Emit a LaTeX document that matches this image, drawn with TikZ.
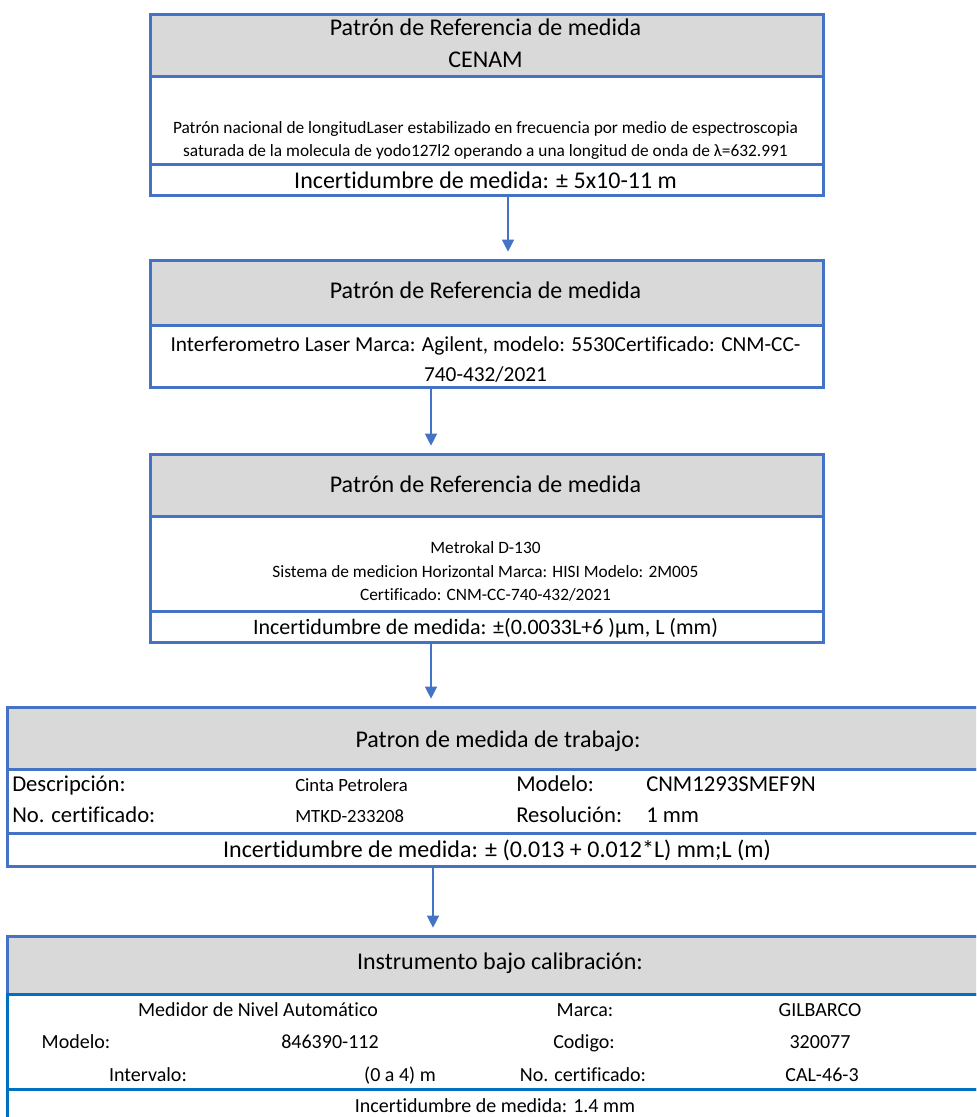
\documentclass[tikz,border=0pt]{standalone}
\usepackage{fontspec}
\setmainfont{Carlito}[Ligatures=NoCommon]
\usetikzlibrary{arrows.meta}
\definecolor{bl}{HTML}{4472C4}
\definecolor{bltwo}{HTML}{0070C0}
\definecolor{gr}{HTML}{D9D9D9}
\tikzset{
  sect/.style={draw=bl, line width=2pt, inner sep=0pt, anchor=north west, minimum width=504.75pt},
  hsect/.style={sect, fill=gr},
  wsect/.style={sect, minimum width=738pt},
  whsect/.style={wsect, fill=gr},
  txt/.style={inner sep=0pt, anchor=base},
  ltxt/.style={inner sep=0pt, anchor=base west},
  rtxt/.style={inner sep=0pt, anchor=base east},
  ftitle/.style={font=\fontsize{18}{22}\selectfont},
  fsmall/.style={font=\fontsize{13}{15}\selectfont},
  fbody/.style={font=\fontsize{16}{19}\selectfont},
  fmid/.style={font=\fontsize{15}{18}\selectfont},
  flab/.style={font=\fontsize{17}{20}\selectfont},
  fval/.style={font=\fontsize{14}{17}\selectfont},
  arr/.style={draw=bl, line width=1pt, -{Triangle[length=9pt,width=9pt]}, shorten >=5.5pt}
}
\begin{document}
\begin{tikzpicture}[x=0.75pt,y=-0.75pt]
\useasboundingbox (0,0) rectangle (976,1117);
\clip (0,0) rectangle (976,1117);
\coordinate (a1) at (508,0);
\coordinate (a2) at (431,0);
\coordinate (a3) at (431,0);
\coordinate (a4) at (433,0);
% Box 1
\node[hsect, minimum height=46.5pt] (b1h) at (149,13) {};
\node[sect, minimum height=66pt] (b1b) at (149,75) {};
\node[sect, minimum height=23.25pt] (b1i) at (149,163) {};
\node[txt, ftitle] (b1t1) at (485.5,36) {Patrón de Referencia de medida};
\node[txt, ftitle] (b1t2) at (485.5,67) {CENAM};
\node[txt, fsmall] (b1l1) at (485.5,133) {Patrón nacional de longitudLaser estabilizado en frecuencia por medio de espectroscopia};
\node[txt, fsmall] (b1l2) at (485.5,156) {saturada de la molecula de yodo127l2 operando a una longitud de onda de λ=632.991};
\node[txt, ftitle] (b1it) at (485.5,188) {Incertidumbre de medida: ± 5x10-11 m};
% Box 2
\node[hsect, minimum height=48.75pt] (b2h) at (149,259) {};
\node[sect, minimum height=46.5pt] (b2b) at (149,324) {};
\node[txt, ftitle] (b2t) at (485.5,298) {Patrón de Referencia de medida};
\node[txt, fbody] (b2l1) at (485.5,351) {Interferometro Laser Marca: Agilent, modelo: 5530Certificado: CNM-CC-};
\node[txt, fbody] (b2l2) at (485.5,381) {740-432/2021};
% Box 3
\node[hsect, minimum height=46.5pt] (b3h) at (149,453) {};
\node[sect, minimum height=71.25pt] (b3b) at (149,515) {};
\node[sect, minimum height=23.25pt] (b3i) at (149,610) {};
\node[txt, ftitle] (b3t) at (485.5,492) {Patrón de Referencia de medida};
\node[txt, fsmall] (b3l1) at (485.5,553) {Metrokal D-130};
\node[txt, fsmall] (b3l2) at (485.5,577) {Sistema de medicion Horizontal Marca: HISI Modelo: 2M005};
\node[txt, fsmall] (b3l3) at (485.5,600) {Certificado: CNM-CC-740-432/2021};
\node[txt, font=\fontsize{16.5}{20}\selectfont] (b3it) at (485.5,634) {Incertidumbre de medida: ±(0.0033L+6 )μm, L (mm)};
% Box 4
\node[whsect, minimum height=46.5pt] (b4h) at (6,706) {};
\node[wsect, minimum height=48pt] (b4b) at (6,768) {};
\node[wsect, minimum height=24.75pt] (b4i) at (6,832) {};
\node[txt, ftitle] (b4t) at (498,747) {Patron de medida de trabajo:};
\node[ltxt, flab] (b4r1a) at (12,791) {Descripción:};
\node[ltxt, fval] (b4r1b) at (295,791) {Cinta Petrolera};
\node[ltxt, flab] (b4r1c) at (516,791) {Modelo:};
\node[ltxt, flab] (b4r1d) at (646,791) {CNM1293SMEF9N};
\node[ltxt, flab] (b4r2a) at (12,822) {No. certificado:};
\node[ltxt, fval] (b4r2b) at (295,822) {MTKD-233208};
\node[ltxt, flab] (b4r2c) at (516,822) {Resolución:};
\node[ltxt, flab] (b4r2d) at (646,822) {1 mm};
\node[txt, ftitle] (b4it) at (497,857) {Incertidumbre de medida:  ± (0.013 + 0.012*L) mm;L (m)};
% Box 5
\node[whsect, minimum height=43.5pt] (b5h) at (6,935) {};
\node[wsect, draw=bltwo, minimum height=71.25pt] (b5b) at (6,993) {};
\node[wsect, draw=bltwo, minimum height=30pt] (b5i) at (6,1088) {};
\node[txt, ftitle] (b5t) at (500,969) {Instrumento bajo calibración:};
\node[txt, fmid] (b5r1a) at (258,1016) {Medidor de Nivel Automático};
\node[txt, fmid] (b5r1b) at (585,1016) {Marca:};
\node[txt, fmid] (b5r1c) at (820,1016) {GILBARCO};
\node[txt, fmid] (b5r2a) at (76,1048) {Modelo:};
\node[txt, fmid] (b5r2b) at (330,1048) {846390-112};
\node[txt, fmid] (b5r2c) at (584,1048) {Codigo:};
\node[txt, fmid] (b5r2d) at (820,1048) {320077};
\node[txt, fmid] (b5r3a) at (148,1081) {Intervalo:};
\node[rtxt, fmid] (b5r3b) at (436,1081) {(0 a 4) m};
\node[txt, fmid] (b5r3c) at (583,1081) {No. certificado:};
\node[txt, fmid] (b5r3d) at (822,1081) {CAL-46-3};
\node[txt, fmid] (b5it) at (495,1112) {Incertidumbre de medida: 1.4 mm};
% connectors
\draw[arr] (b1i.south -| a1) -- (b2h.north -| a1);
\draw[arr] (b2b.south -| a2) -- (b3h.north -| a2);
\draw[arr] (b3i.south -| a3) -- (b4h.north -| a3);
\draw[arr] (b4i.south -| a4) -- (b5h.north -| a4);
\end{tikzpicture}
\end{document}
